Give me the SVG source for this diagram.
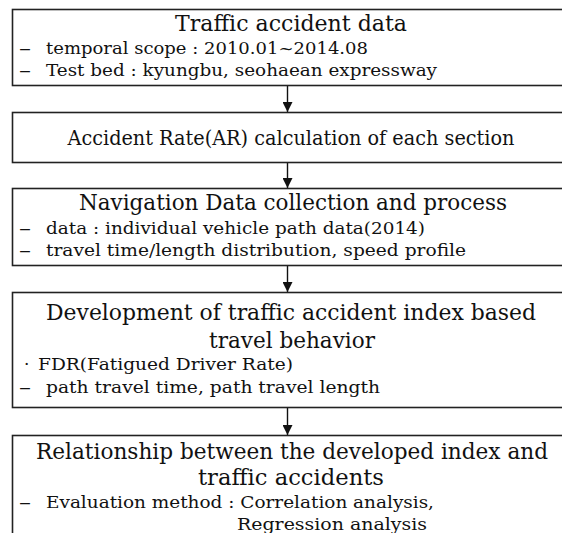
<svg xmlns="http://www.w3.org/2000/svg" width="562" height="533" viewBox="0 0 562 533">
<defs>
<marker id="ah" viewBox="0 0 10 10" refX="10" refY="5" markerWidth="10" markerHeight="10" markerUnits="userSpaceOnUse" orient="auto">
<path d="M0,0 L10,5 L0,10 z" fill="#111"/>
</marker>
<style>
.box{fill:#fff;stroke:#222;stroke-width:1.6}
.t{font-family:"DejaVu Serif",serif;font-size:22px;fill:#111;text-anchor:middle}
.b{font-family:"DejaVu Serif",serif;font-size:17px;fill:#111}
.c{stroke:#111;stroke-width:1.4;fill:none;marker-end:url(#ah)}
</style>
</defs>
<rect width="562" height="533" fill="#fff"/>
<g id="connectors">
<line class="c" x1="287.5" y1="86" x2="287.5" y2="112"/>
<line class="c" x1="287.5" y1="163" x2="287.5" y2="188"/>
<line class="c" x1="287.5" y1="266" x2="287.5" y2="292"/>
<line class="c" x1="287.5" y1="408" x2="287.5" y2="435"/>
</g>
<g id="n1">
<rect class="box" x="12.5" y="9.5" width="551" height="76"/>
<text class="t" x="291" y="31" textLength="232" lengthAdjust="spacingAndGlyphs">Traffic accident data</text>
<text class="b" x="19" y="54" textLength="12" lengthAdjust="spacingAndGlyphs">–</text>
<text class="b" x="46" y="54" textLength="322" lengthAdjust="spacingAndGlyphs">temporal  scope : 2010.01~2014.08</text>
<text class="b" x="19" y="76" textLength="12" lengthAdjust="spacingAndGlyphs">–</text>
<text class="b" x="46" y="76" textLength="391" lengthAdjust="spacingAndGlyphs">Test  bed : kyungbu,  seohaean  expressway</text>
</g>
<g id="n2">
<rect class="box" x="12.5" y="112.5" width="551" height="50"/>
<text class="t" x="291" y="145" font-size="20" style="font-size:20px" textLength="447" lengthAdjust="spacingAndGlyphs">Accident Rate(AR) calculation of each section</text>
</g>
<g id="n3">
<rect class="box" x="12.5" y="188.5" width="551" height="77"/>
<text class="t" x="293" y="210" textLength="428" lengthAdjust="spacingAndGlyphs">Navigation Data collection and process</text>
<text class="b" x="19" y="234" textLength="12" lengthAdjust="spacingAndGlyphs">–</text>
<text class="b" x="46" y="234" textLength="379" lengthAdjust="spacingAndGlyphs">data : individual  vehicle  path  data(2014)</text>
<text class="b" x="19" y="256" textLength="12" lengthAdjust="spacingAndGlyphs">–</text>
<text class="b" x="46" y="256" textLength="420" lengthAdjust="spacingAndGlyphs">travel  time/length  distribution,  speed  profile</text>
</g>
<g id="n4">
<rect class="box" x="12.5" y="292.5" width="551" height="115"/>
<text class="t" x="291" y="320" textLength="490" lengthAdjust="spacingAndGlyphs">Development of traffic accident index based</text>
<text class="t" x="292" y="348" textLength="166" lengthAdjust="spacingAndGlyphs">travel behavior</text>
<text class="b" x="24" y="370">·</text>
<text class="b" x="38" y="370" textLength="255" lengthAdjust="spacingAndGlyphs">FDR(Fatigued  Driver  Rate)</text>
<text class="b" x="19" y="393" textLength="12" lengthAdjust="spacingAndGlyphs">–</text>
<text class="b" x="46" y="393" textLength="334" lengthAdjust="spacingAndGlyphs">path  travel  time,  path  travel  length</text>
</g>
<g id="n5">
<rect class="box" x="12.5" y="435.5" width="551" height="120"/>
<text class="t" x="292" y="459" textLength="512" lengthAdjust="spacingAndGlyphs">Relationship between the developed index and</text>
<text class="t" x="291" y="485" textLength="186" lengthAdjust="spacingAndGlyphs">traffic accidents</text>
<text class="b" x="19" y="508" textLength="12" lengthAdjust="spacingAndGlyphs">–</text>
<text class="b" x="46" y="508" textLength="388" lengthAdjust="spacingAndGlyphs">Evaluation  method : Correlation  analysis,</text>
<text class="b" x="237" y="530" textLength="190" lengthAdjust="spacingAndGlyphs">Regression  analysis</text>
</g>
</svg>
